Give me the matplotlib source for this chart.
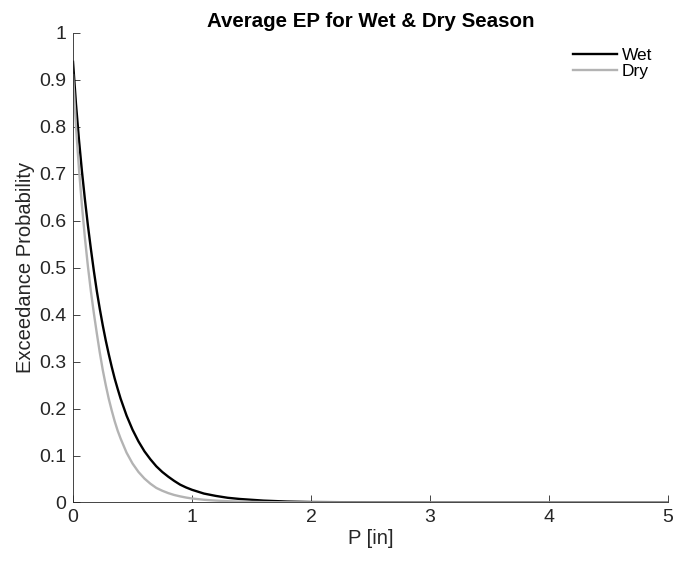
import matplotlib
matplotlib.use("Agg")
import matplotlib.pyplot as plt

plt.rcParams['font.family'] = ['Liberation Sans', 'DejaVu Sans']

# Precipitation depth [in]
p_in = [0, 0.025, 0.05, 0.075, 0.1, 0.125, 0.15, 0.175, 0.2, 0.225, 0.25, 0.275, 0.3,
        0.325, 0.35, 0.375, 0.4, 0.45, 0.5, 0.55, 0.6, 0.65, 0.7, 0.75, 0.8, 0.85, 0.9,
        0.95, 1.0, 1.1, 1.2, 1.3, 1.4, 1.6, 1.8, 2.0, 2.5, 3.0, 3.5, 4.0, 4.5, 5.0]
# Exceedance probability, wet season
ep_wet = [0.938, 0.848, 0.772, 0.705, 0.645, 0.59, 0.54, 0.493, 0.45, 0.412, 0.377,
          0.345, 0.316, 0.289, 0.264, 0.242, 0.221, 0.185, 0.155, 0.13, 0.109, 0.092,
          0.077, 0.065, 0.055, 0.046, 0.038, 0.032, 0.027, 0.019, 0.014, 0.010, 0.0075,
          0.004, 0.002, 0.001, 0.0003, 0.0001, 0.00005, 0.0, 0.0, 0.0]
# Exceedance probability, dry season
ep_dry = [0.91, 0.80, 0.71, 0.632, 0.563, 0.503, 0.45, 0.403, 0.36, 0.319, 0.282, 0.25,
          0.221, 0.196, 0.173, 0.153, 0.136, 0.106, 0.083, 0.065, 0.051, 0.04, 0.031,
          0.025, 0.02, 0.016, 0.013, 0.0105, 0.0085, 0.0058, 0.004, 0.0027, 0.0018,
          0.0008, 0.0004, 0.0002, 0.00005, 0.0, 0.0, 0.0, 0.0, 0.0]

xticks = [0, 1, 2, 3, 4, 5]
yticks = [0, 0.1, 0.2, 0.3, 0.4, 0.5, 0.6, 0.7, 0.8, 0.9, 1]
ytick_labels = ['0', '0.1', '0.2', '0.3', '0.4', '0.5', '0.6', '0.7', '0.8', '0.9', '1']

fig = plt.figure(figsize=(6.73, 5.61), dpi=100)
ax = fig.add_axes([0.1085, 0.1043, 0.8841, 0.8374])

ax.plot(p_in, ep_wet, color='black', lw=1.7, label='Wet', solid_joinstyle='round')
ax.plot(p_in, ep_dry, color='#b3b3b3', lw=1.7, label='Dry', solid_joinstyle='round')

ax.set_xlim(0, 5)
ax.set_ylim(0, 1)
ax.set_xticks(xticks)
ax.set_xticklabels([str(t) for t in xticks])
ax.set_yticks(yticks)
ax.set_yticklabels(ytick_labels)

for side in ['top', 'right']:
    ax.spines[side].set_visible(False)
for side in ['left', 'bottom']:
    ax.spines[side].set_color('#262626')
    ax.spines[side].set_linewidth(0.6)
ax.tick_params(direction='in', length=5, width=0.6, colors='#262626',
               labelsize=14, labelcolor='#262626', pad=5)

ax.set_xlabel('P [in]', fontsize=14.5, color='#262626', labelpad=2)
ax.set_ylabel('Exceedance Probability', fontsize=14.5, color='#262626', labelpad=3)
ax.set_title('Average EP for Wet & Dry Season', fontsize=14.8, fontweight='bold', pad=4)

leg = ax.legend(loc='upper right', frameon=False, fontsize=12.5, handlelength=2.5,
                handletextpad=0.3, labelspacing=0.0, borderaxespad=0.5)

fig.savefig('out.png', dpi=100)
